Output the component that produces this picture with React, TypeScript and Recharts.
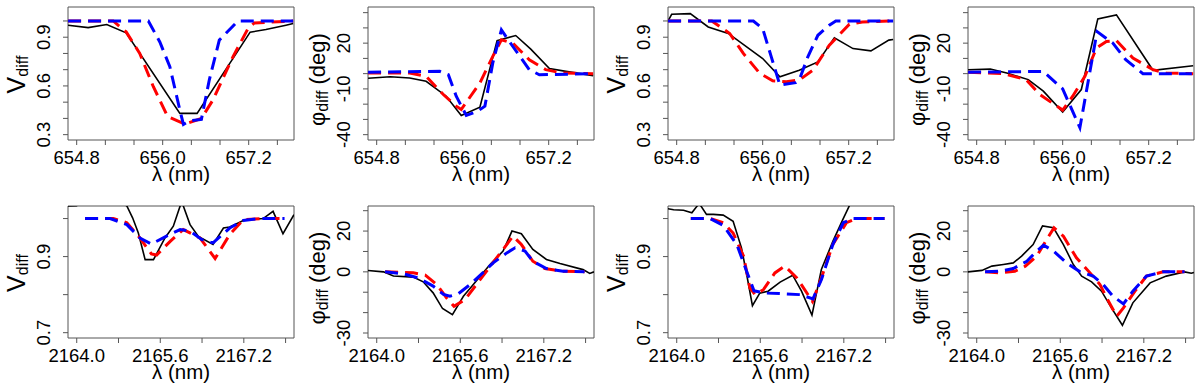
import React from 'react';
import { LineChart, Line, XAxis, YAxis, ReferenceArea } from 'recharts';

type Pt = [number, number];

// ---- Axis ticks & labels ----
const haTicksX = [654.8, 655.2, 655.6, 656.0, 656.4, 656.8, 657.2, 657.6];
const haLabelsX = [654.8, 656.0, 657.2];
const brTicksX = [2164.0, 2164.8, 2165.6, 2166.4, 2167.2, 2168.0];
const brLabelsX = [2164.0, 2165.6, 2167.2];
const vTopTicks = [0.3, 0.4, 0.5, 0.6, 0.7, 0.8, 0.9, 1.0];
const vTopLabels = [0.3, 0.6, 0.9];
const phiTopTicks = [-40, -30, -20, -10, 0, 10, 20, 30, 40];
const phiTopLabels = [-40, -10, 20];
const vBotTicks = [0.7, 0.8, 0.9, 1.0];
const vBotLabels = [0.7, 0.9];
const phiBotTicks = [-30, -20, -10, 0, 10, 20, 30];
const phiBotLabels = [-30, 0, 20];

const haDomainX: [number, number] = [654.679, 657.832];
const brDomainX: [number, number] = [2163.833, 2168.161];
const vTopDomain: [number, number] = [0.267, 1.086];
const phiTopDomain: [number, number] = [-43.5, 43.7];
const vBotDomain: [number, number] = [0.686, 1.033];
const phiBotDomain: [number, number] = [-32.45, 32.3];

// ---- Panel 1: H-alpha V_diff (a) ----
const haV1Black: Pt[] = [[654.68,0.974],[654.96,0.959],[655.22,0.978],[655.49,0.927],[656.24,0.431],[656.48,0.431],[657.22,0.931],[657.44,0.947],[657.72,0.974],[657.82,0.984]];
const haV1Red: Pt[] = [[654.68,1.0],[655.31,1.0],[655.49,0.933],[655.68,0.80],[655.87,0.595],[656.07,0.411],[656.31,0.365],[656.54,0.40],[656.70,0.513],[656.98,0.779],[657.19,0.953],[657.28,0.988],[657.82,1.0]];
const haV1Blue: Pt[] = [[654.68,1.0],[655.80,1.0],[655.96,0.871],[656.10,0.718],[656.24,0.451],[656.29,0.363],[656.38,0.386],[656.54,0.394],[656.65,0.636],[656.79,0.882],[657.05,1.0],[657.82,1.0]];

// ---- Panel 2: H-alpha phi_diff (a) ----
const haP1Black: Pt[] = [[654.68,-3.0],[654.99,-2.0],[655.26,-2.8],[655.49,-5.0],[655.77,-14.8],[655.98,-27.4],[656.24,-22.0],[656.48,21.7],[656.74,25.0],[656.95,16.1],[657.21,3.3],[657.44,1.5],[657.82,-1.3]];
const haP1Red: Pt[] = [[654.68,0.5],[655.26,0.4],[655.49,-1.7],[655.73,-13.7],[655.91,-21.3],[655.98,-23.5],[656.24,-6.1],[656.42,11.3],[656.54,22.2],[656.70,20.0],[656.93,9.1],[657.16,2.6],[657.39,0.4],[657.82,0]];
const haP1Blue: Pt[] = [[654.68,0.9],[655.68,1.5],[655.80,-0.7],[655.91,-14.8],[656.05,-27.4],[656.21,-24.6],[656.31,-21.3],[656.42,7.0],[656.54,28.7],[656.70,17.8],[656.93,2.6],[657.07,-0.7],[657.82,0]];

// ---- Panel 3: H-alpha V_diff (b) ----
const haV2Black: Pt[] = [[654.68,1.0],[654.73,1.041],[654.99,1.045],[655.24,0.963],[655.52,0.923],[656.00,0.769],[656.24,0.656],[656.51,0.697],[656.77,0.748],[657.00,0.896],[657.26,0.830],[657.51,0.816],[657.76,0.882],[657.82,0.886]];
const haV2Red: Pt[] = [[654.68,1.0],[655.29,1.0],[655.54,0.923],[655.73,0.80],[655.96,0.677],[656.14,0.632],[656.33,0.626],[656.51,0.636],[656.70,0.697],[656.93,0.851],[657.21,0.980],[657.39,0.994],[657.82,1.0]];
const haV2Blue: Pt[] = [[654.68,1.0],[655.87,1.0],[656.00,0.953],[656.12,0.779],[656.24,0.605],[656.46,0.62],[656.51,0.636],[656.63,0.779],[656.77,0.912],[656.93,0.974],[657.02,1.0],[657.82,1.0]];

// ---- Panel 4: H-alpha phi_diff (b) ----
const haP2Black: Pt[] = [[654.68,2.6],[654.99,3.0],[655.22,0.4],[655.52,-3.9],[655.73,-11.5],[656.00,-25.2],[656.26,-10.4],[656.49,35.9],[656.75,38.5],[657.26,2.2],[657.82,5.2]];
const haP2Red: Pt[] = [[654.68,0.9],[655.17,0],[655.49,-3.9],[655.68,-13.7],[656.00,-23.9],[656.14,-14.8],[656.31,-1.7],[656.47,16.7],[656.61,21.1],[656.75,21.7],[656.98,10.2],[657.26,2.6],[657.44,0.4],[657.82,0]];
const haP2Blue: Pt[] = [[654.68,0.9],[655.73,1.5],[656.00,-10],[656.24,-35.4],[656.48,27.6],[656.70,20],[656.88,9.1],[657.12,0],[657.82,0]];

// ---- Panel 5: Br-gamma V_diff (a) ----
const brV1Black: Pt[] = [[2163.83,1.033],[2164.00,1.034],[2164.45,1.08],[2164.96,1.033],[2165.07,1.002],[2165.18,0.962],[2165.31,0.892],[2165.47,0.892],[2165.69,0.949],[2165.85,0.98],[2166.01,1.045],[2166.17,0.984],[2166.33,0.953],[2166.61,0.932],[2166.81,0.975],[2166.93,0.978],[2167.22,0.997],[2167.57,1.0],[2167.76,1.019],[2167.95,0.96],[2168.16,1.01]];
const brV1Red: Pt[] = [[2164.16,1.0],[2164.70,1.0],[2164.96,0.989],[2165.21,0.949],[2165.43,0.907],[2165.53,0.904],[2165.79,0.94],[2166.04,0.971],[2166.36,0.949],[2166.65,0.895],[2166.93,0.958],[2167.19,0.997],[2167.57,1.0],[2167.98,1.0]];
const brV1Blue: Pt[] = [[2164.16,1.0],[2164.64,1.0],[2164.96,0.984],[2165.21,0.949],[2165.43,0.933],[2165.72,0.954],[2165.98,0.971],[2166.17,0.967],[2166.39,0.945],[2166.61,0.936],[2166.93,0.975],[2167.19,0.995],[2167.5,1.0],[2167.98,1.0]];

// ---- Panel 6: Br-gamma phi_diff (a) ----
const brP1Black: Pt[] = [[2163.83,0.7],[2164.13,0],[2164.32,-2.0],[2164.70,-2.6],[2164.89,-4.9],[2165.08,-10.3],[2165.26,-18.0],[2165.45,-21.0],[2165.66,-12.0],[2165.85,-6.2],[2166.17,3.6],[2166.42,10.2],[2166.59,20.0],[2166.77,18.7],[2166.99,11.0],[2167.25,6.1],[2167.51,4.1],[2167.95,1.1],[2168.08,-0.8],[2168.16,0]];
const brP1Red: Pt[] = [[2164.16,0],[2164.70,-0.5],[2164.93,-1.6],[2165.15,-6.2],[2165.34,-12.8],[2165.48,-16.9],[2165.69,-13.6],[2165.91,-6.2],[2166.20,3.6],[2166.42,11.0],[2166.61,17.5],[2166.77,13.4],[2166.99,5.2],[2167.22,1.6],[2167.57,0.3],[2167.98,0]];
const brP1Blue: Pt[] = [[2164.16,0],[2164.51,-1.0],[2164.80,-3.0],[2165.08,-7.0],[2165.28,-11.1],[2165.40,-12.0],[2165.56,-10.8],[2165.79,-6.2],[2166.01,-1.0],[2166.23,4.4],[2166.49,9.3],[2166.65,11.8],[2166.84,10.2],[2166.99,5.2],[2167.25,1.6],[2167.57,0.3],[2167.98,0]];

// ---- Panel 7: Br-gamma V_diff (b) ----
const brV2Black: Pt[] = [[2163.83,1.026],[2163.94,1.023],[2164.13,1.022],[2164.29,1.015],[2164.43,1.04],[2164.57,1.011],[2164.70,1.011],[2164.89,1.009],[2165.08,0.993],[2165.24,0.923],[2165.34,0.853],[2165.45,0.771],[2165.59,0.804],[2165.75,0.809],[2165.98,0.833],[2166.22,0.851],[2166.39,0.809],[2166.59,0.746],[2166.77,0.866],[2166.99,0.94],[2167.18,0.997],[2167.5,1.09]];
const brV2Red: Pt[] = [[2164.27,1.0],[2164.64,1.0],[2164.89,0.989],[2165.08,0.962],[2165.28,0.901],[2165.40,0.818],[2165.50,0.8],[2165.66,0.813],[2165.88,0.857],[2166.07,0.875],[2166.30,0.844],[2166.60,0.782],[2166.77,0.844],[2166.99,0.932],[2167.25,0.989],[2167.44,1.0],[2167.98,1.0]];
const brV2Blue: Pt[] = [[2164.27,1.0],[2164.64,1.0],[2164.89,0.982],[2165.15,0.932],[2165.34,0.861],[2165.48,0.81],[2165.72,0.804],[2166.10,0.802],[2166.36,0.8],[2166.61,0.789],[2166.77,0.839],[2166.99,0.932],[2167.19,0.989],[2167.38,1.0],[2167.98,1.0]];

// ---- Panel 8: Br-gamma phi_diff (b) ----
const brP2Black: Pt[] = [[2163.83,0],[2164.10,0.7],[2164.29,2.8],[2164.51,3.6],[2164.70,4.4],[2164.86,7.7],[2165.08,13.4],[2165.26,22.5],[2165.47,21.6],[2165.66,13.4],[2165.85,3.6],[2166.01,-2.1],[2166.20,-4.9],[2166.39,-9.5],[2166.58,-17.7],[2166.79,-26.2],[2166.99,-15.2],[2167.32,-5.4],[2167.63,-2.1],[2167.98,0],[2168.11,-0.7],[2168.16,-0.3]];
const brP2Red: Pt[] = [[2164.16,0],[2164.41,-0.5],[2164.73,0.3],[2164.93,2.8],[2165.15,7.7],[2165.34,15.9],[2165.48,21.6],[2165.66,17.5],[2165.91,6.9],[2166.17,-0.5],[2166.36,-6.2],[2166.49,-12.8],[2166.68,-21.8],[2166.81,-17.7],[2167.03,-9.5],[2167.25,-2.1],[2167.57,0],[2167.98,0]];
const brP2Blue: Pt[] = [[2164.16,0],[2164.45,0.3],[2164.70,1.6],[2164.96,5.2],[2165.15,10.2],[2165.28,13.1],[2165.47,10.2],[2165.72,4.4],[2165.98,0],[2166.23,-2.1],[2166.42,-6.2],[2166.61,-12.0],[2166.81,-15.7],[2166.99,-9.5],[2167.25,-2.1],[2167.57,0],[2167.98,0]];

const FONT = '"Liberation Sans", Arial, Helvetica, sans-serif';
const AXIS_COLOR = '#555';

const has = (list: number[], v: number) => list.some((l) => Math.abs(l - v) < 1e-6);

const makeXTick = (labels: number[]) => (props: any) => {
  const { x, y, payload } = props;
  if (!has(labels, payload.value)) return <g />;
  return (
    <text x={x} y={y + 19.3} textAnchor="middle" fontFamily={FONT} fontSize={18.5} fill="#000">
      {Number(payload.value).toFixed(1)}
    </text>
  );
};

const makeYTick = (labels: number[], digits: number) => (props: any) => {
  const { x, y, payload } = props;
  if (!has(labels, payload.value)) return <g />;
  const bx = x - 13;
  return (
    <text x={bx} y={y} transform={`rotate(-90, ${bx}, ${y})`} textAnchor="middle" fontFamily={FONT} fontSize={18.5} fill="#000">
      {Number(payload.value).toFixed(digits)}
    </text>
  );
};

const makeYTitle = (kind: 'V' | 'phi') => (props: any) => {
  const vb = props.viewBox || { x: 0, y: 0, width: 68, height: 133 };
  const cx = vb.x + 25;
  const cy = vb.y + vb.height / 2 + (kind === 'phi' ? 6 : 1);
  return (
    <text x={cx} y={cy} transform={`rotate(-90, ${cx}, ${cy})`} textAnchor="middle" fontFamily={FONT} fontSize={25} fill="#000">
      {kind === 'V' ? (
        <>
          <tspan>V</tspan>
          <tspan fontSize={16} dy={3}>diff</tspan>
        </>
      ) : (
        <>
          <tspan fontSize={22}>φ</tspan>
          <tspan fontSize={16} dy={3}>diff</tspan>
          <tspan fontSize={22} dy={-3}>{' (deg)'}</tspan>
        </>
      )}
    </text>
  );
};

const xTitle = (props: any) => {
  const vb = props.viewBox || { x: 68, y: 140, width: 226, height: 55 };
  return (
    <text x={vb.x + vb.width / 2} y={vb.y + 41} textAnchor="middle" fontFamily={FONT} fontSize={20.5} fill="#000">
      λ (nm)
    </text>
  );
};

const toData = (pts: Pt[]) => pts.map(([x, y]) => ({ x, y }));

interface PanelProps {
  black: Pt[];
  red: Pt[];
  blue: Pt[];
  xTicks: number[];
  xLabels: number[];
  xDomain: [number, number];
  yTicks: number[];
  yLabels: number[];
  yDomain: [number, number];
  yDigits: number;
  kind: 'V' | 'phi';
  height: number;
  top: number;
}

function Panel(p: PanelProps) {
  const xAxisH = p.height - p.top - (p.height === 195 ? 133 : 132);
  return (
    <LineChart width={300} height={p.height} margin={{ top: p.top, right: 6, bottom: 0, left: 0 }}>
      <XAxis
        type="number"
        dataKey="x"
        domain={p.xDomain}
        ticks={p.xTicks}
        interval={0}
        allowDataOverflow
        height={xAxisH}
        axisLine={false}
        tickSize={5}
        tickMargin={0}
        tickLine={{ stroke: AXIS_COLOR, strokeWidth: 1 }}
        tick={makeXTick(p.xLabels)}
        label={xTitle}
      />
      <YAxis
        type="number"
        dataKey="y"
        domain={p.yDomain}
        ticks={p.yTicks}
        interval={0}
        allowDataOverflow
        width={68}
        axisLine={false}
        tickSize={5}
        tickMargin={0}
        tickLine={{ stroke: AXIS_COLOR, strokeWidth: 1 }}
        tick={makeYTick(p.yLabels, p.yDigits)}
        label={makeYTitle(p.kind)}
      />
      <ReferenceArea
        x1={p.xDomain[0]}
        x2={p.xDomain[1]}
        y1={p.yDomain[0]}
        y2={p.yDomain[1]}
        fill="none"
        fillOpacity={0}
        stroke={AXIS_COLOR}
        strokeWidth={1}
        ifOverflow="visible"
      />
      <Line data={toData(p.black)} dataKey="y" type="linear" stroke="#000" strokeWidth={1.6} dot={false} isAnimationActive={false} />
      <Line data={toData(p.red)} dataKey="y" type="linear" stroke="#ff0000" strokeWidth={3} strokeDasharray="13 7" dot={false} isAnimationActive={false} />
      <Line data={toData(p.blue)} dataKey="y" type="linear" stroke="#0000ff" strokeWidth={3} strokeDasharray="13 7" dot={false} isAnimationActive={false} />
    </LineChart>
  );
}

export default function App() {
  const top = { xTicks: haTicksX, xLabels: haLabelsX, xDomain: haDomainX, height: 195, top: 7 };
  const bot = { xTicks: brTicksX, xLabels: brLabelsX, xDomain: brDomainX, height: 194, top: 11 };
  const vTop = { yTicks: vTopTicks, yLabels: vTopLabels, yDomain: vTopDomain, yDigits: 1, kind: 'V' as const };
  const pTop = { yTicks: phiTopTicks, yLabels: phiTopLabels, yDomain: phiTopDomain, yDigits: 0, kind: 'phi' as const };
  const vBot = { yTicks: vBotTicks, yLabels: vBotLabels, yDomain: vBotDomain, yDigits: 1, kind: 'V' as const };
  const pBot = { yTicks: phiBotTicks, yLabels: phiBotLabels, yDomain: phiBotDomain, yDigits: 0, kind: 'phi' as const };
  return (
    <div style={{ position: 'fixed', left: 0, top: 0, width: 1200, height: 389, background: '#fff', display: 'flex', flexDirection: 'column' }}>
      <div style={{ display: 'flex', height: 195 }}>
        <Panel {...top} {...vTop} black={haV1Black} red={haV1Red} blue={haV1Blue} />
        <Panel {...top} {...pTop} black={haP1Black} red={haP1Red} blue={haP1Blue} />
        <Panel {...top} {...vTop} black={haV2Black} red={haV2Red} blue={haV2Blue} />
        <Panel {...top} {...pTop} black={haP2Black} red={haP2Red} blue={haP2Blue} />
      </div>
      <div style={{ display: 'flex', height: 194 }}>
        <Panel {...bot} {...vBot} black={brV1Black} red={brV1Red} blue={brV1Blue} />
        <Panel {...bot} {...pBot} black={brP1Black} red={brP1Red} blue={brP1Blue} />
        <Panel {...bot} {...vBot} black={brV2Black} red={brV2Red} blue={brV2Blue} />
        <Panel {...bot} {...pBot} black={brP2Black} red={brP2Red} blue={brP2Blue} />
      </div>
    </div>
  );
}
